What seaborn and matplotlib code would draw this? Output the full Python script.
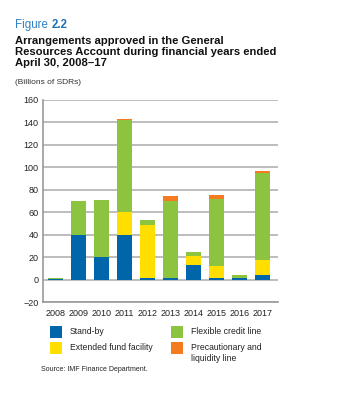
# IMF Figure 2.2: GRA arrangements approved, FY2008-17

import pandas as pd
import matplotlib.pyplot as plt
import seaborn as sns
from matplotlib.patches import Rectangle

years = ["2008", "2009", "2010", "2011", "2012", "2013", "2014", "2015", "2016", "2017"]
stand_by = [0.7, 40, 20, 40, 1, 1, 13.3, 1, 1, 4.4]
extended_fund = [0, 0, 0, 20, 48, 0, 7.4, 11, 0, 13.4]
flexible_credit = [0.5, 30, 50.5, 82, 4, 69, 3.6, 59.7, 3.2, 77]
precautionary = [0, 0, 0, 1, 0, 4, 0, 3.3, 0, 1.5]

labels = ["Stand-by", "Extended fund facility", "Flexible credit line",
          "Precautionary and\nliquidity line"]
palette = ["#0066a9", "#ffde00", "#8cc43f", "#f47b20"]

df = pd.DataFrame({
    "year": years,
    "sb": stand_by,
    "eff": extended_fund,
    "fcl": flexible_credit,
    "pll": precautionary,
})
df["c1"] = df["sb"]
df["c2"] = df["c1"] + df["eff"]
df["c3"] = df["c2"] + df["fcl"]
df["c4"] = df["c3"] + df["pll"]

plt.rcParams["font.family"] = ["Liberation Sans", "DejaVu Sans"]

fig = plt.figure(figsize=(3.54, 3.94), dpi=100)
ax = fig.add_axes([0.121, 0.2335, 0.664, 0.513])

# draw cumulative totals from the top down so each layer shows
for col, c in zip(["c4", "c3", "c2", "c1"], palette[::-1]):
    sns.barplot(data=df, x="year", y=col, color=c, width=0.65,
                saturation=1, ax=ax, zorder=3, edgecolor="none")

ax.set_ylim(-20, 160)
ax.set_xlim(-0.54, 9.67)
ax.set_yticks(range(-20, 161, 20))
ax.yaxis.grid(True, color="#bdbdbd", linewidth=1.4, zorder=0)
ax.set_axisbelow(True)
ax.set_xlabel("")
ax.set_ylabel("")
for s in ["top", "right"]:
    ax.spines[s].set_visible(False)
for s in ["left", "bottom"]:
    ax.spines[s].set_color("#999999")
    ax.spines[s].set_linewidth(1.2)
ax.tick_params(axis="both", length=0, labelsize=6.5, colors="#222222")
ax.tick_params(axis="y", pad=3)
ax.tick_params(axis="x", pad=5)

# titles
t1 = fig.text(0.042, 0.928, "Figure", color="#2f7fc1", fontsize=8.3)
ax.annotate("2.2", xy=(1, 0), xycoords=t1, xytext=(2.5, 0), textcoords="offset points",
            color="#1f6fb5", fontsize=8.3, fontweight="bold", va="bottom")
fig.text(0.042, 0.832,
         "Arrangements approved in the General\n"
         "Resources Account during financial years ended\n"
         "April 30, 2008\u201317",
         fontsize=8.1, fontweight="bold", linespacing=1.13, color="#111111")
fig.text(0.042, 0.787, "(Billions of SDRs)", fontsize=6.0, color="#333333")

# legend, laid out by hand (pixel spots) to match the two-column block
W, H = 354, 394
spots = [(50, 326), (50, 342), (171, 326), (171, 342)]
for (x, y), lab, c in zip(spots, labels, palette):
    fig.add_artist(Rectangle((x / W, 1 - (y + 11.5) / H), 12 / W, 11.5 / H,
                             facecolor=c, edgecolor="none", transform=fig.transFigure))
    if "\n" in lab:
        fig.text((x + 20) / W, 1 - (y + 1) / H, lab, fontsize=6.2, color="#222222",
                 va="top", linespacing=1.25)
    else:
        fig.text((x + 20) / W, 1 - (y + 5.5) / H, lab, fontsize=6.2, color="#222222",
                 va="center")

fig.text(0.116, 0.058, "Source: IMF Finance Department.", fontsize=5.0, color="#222222")

plt.savefig("out.png", dpi=100)
